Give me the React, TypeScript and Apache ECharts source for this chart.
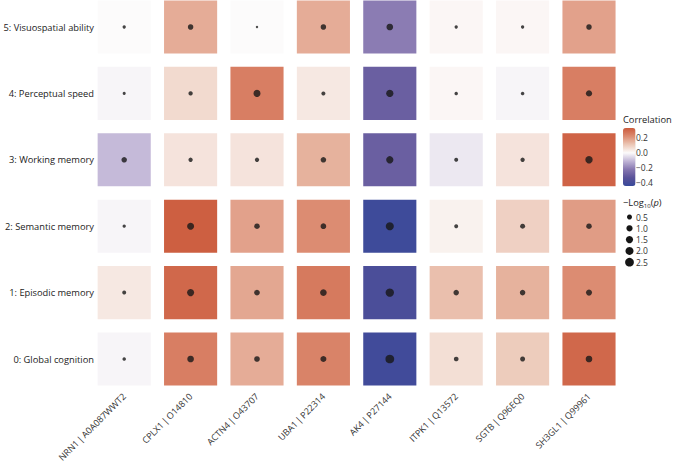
import React, { useEffect, useRef } from "react";
import * as echarts from "echarts";

const proteins = [
  "NRN1\u2009|\u2009A0A087WWT2",
  "CPLX1\u2009|\u2009O14810",
  "ACTN4\u2009|\u2009O43707",
  "UBA1\u2009|\u2009P22314",
  "AK4\u2009|\u2009P27144",
  "ITPK1\u2009|\u2009Q13572",
  "SGTB\u2009|\u2009Q96EQ0",
  "SH3GL1\u2009|\u2009Q99961",
];
const outcomes = [
  "0: Global cognition",
  "1: Episodic memory",
  "2: Semantic memory",
  "3: Working memory",
  "4: Perceptual speed",
  "5: Visuospatial ability",
];

// correlation per outcome (rows), one value per protein (columns)
const corrGlobal = [-0.01, 0.25, 0.16, 0.24, -0.41, 0.06, 0.1, 0.3];
const corrEpisodic = [0.04, 0.3, 0.17, 0.26, -0.38, 0.125, 0.15, 0.22];
const corrSemantic = [-0.01, 0.32, 0.18, 0.22, -0.42, 0.02, 0.09, 0.19];
const corrWorking = [-0.1, 0.05, 0.05, 0.15, -0.29, -0.03, 0.05, 0.31];
const corrPerceptual = [-0.01, 0.07, 0.25, 0.04, -0.29, 0.01, -0.01, 0.25];
const corrVisuospatial = [0.0, 0.16, 0.0, 0.16, -0.21, 0.01, 0.01, 0.18];

// -log10(p) per outcome
const logpGlobal = [0.12, 1.2, 0.75, 0.9, 2.5, 0.4, 0.5, 1.2];
const logpEpisodic = [0.22, 1.4, 0.75, 1.2, 2.2, 0.68, 0.68, 0.9];
const logpSemantic = [0.09, 1.4, 0.68, 0.75, 2.0, 0.22, 0.5, 0.68];
const logpWorking = [0.68, 0.3, 0.3, 0.68, 1.55, 0.22, 0.3, 1.6];
const logpPerceptual = [0.06, 0.3, 1.4, 0.22, 1.55, 0.12, 0.12, 1.0];
const logpVisuospatial = [0.09, 0.68, 0.01, 0.68, 1.2, 0.09, 0.09, 0.68];

const corrRows = [corrGlobal, corrEpisodic, corrSemantic, corrWorking, corrPerceptual, corrVisuospatial];
const logpRows = [logpGlobal, logpEpisodic, logpSemantic, logpWorking, logpPerceptual, logpVisuospatial];

const colorTicks = [0.2, 0.0, -0.2, -0.4];
const sizeTicks = [0.5, 1.0, 1.5, 2.0, 2.5];

const CMIN = -0.44;
const CMAX = 0.33;
const palette = ["#38499a", "#5a5299", "#8676b0", "#c0b4d6", "#fcfbfb", "#ecc7b6", "#dc8c72", "#cc5a3c"];

const FONT = "'Open Sans', 'Noto Sans', sans-serif";
const sizeOf = (v: number) => 2 + 7 * Math.sqrt(Math.max(v, 0) / 2.7);

export default function App() {
  const ref = useRef<HTMLDivElement>(null);
  useEffect(() => {
    if (!ref.current) return;
    const chart = echarts.init(ref.current, null, { renderer: "svg" });

    const cellData: number[][] = [];
    const dotData: number[][] = [];
    outcomes.forEach((_, r) => {
      proteins.forEach((_, c) => {
        cellData.push([c, r, corrRows[r][c]]);
        dotData.push([c, r, logpRows[r][c]]);
      });
    });

    const barTop = 128;
    const barH = 58;
    const barLeft = 623;
    const barW = 12.5;
    const yOf = (v: number) => barTop + ((CMAX - v) / (CMAX - CMIN)) * barH;

    const graphics: any[] = [];
    graphics.push({
      type: "text",
      left: 623,
      top: 115,
      style: { text: "Correlation", font: `9.3px ${FONT}`, fill: "#222" },
    });
    colorTicks.forEach((t) => {
      const y = yOf(t);
      graphics.push({
        type: "text",
        x: 636,
        y,
        style: {
          text: t === 0 ? "0.0" : (t < 0 ? "\u2212" : "") + Math.abs(t).toFixed(1),
          font: `8.5px ${FONT}`,
          fill: "#333",
          verticalAlign: "middle",
          lineHeight: 9,
        },
      });
      graphics.push({ type: "line", shape: { x1: barLeft, y1: y, x2: barLeft + 2.5, y2: y }, style: { stroke: "#fff", lineWidth: 0.8 } });
      graphics.push({ type: "line", shape: { x1: barLeft + barW - 2.5, y1: y, x2: barLeft + barW, y2: y }, style: { stroke: "#fff", lineWidth: 0.8 } });
    });
    graphics.push({
      type: "text",
      x: 623,
      y: 202,
      style: {
        text: "{a|\u2212Log}{s|10}{a|(}{i|p}{a|)}",
        verticalAlign: "middle",
        rich: {
          a: { font: `9.3px ${FONT}`, fill: "#222", lineHeight: 14 },
          s: { font: `6px ${FONT}`, fill: "#222", lineHeight: 14, verticalAlign: "bottom", padding: [4, 0, 0, 0] },
          i: { font: `italic 9.3px ${FONT}`, fill: "#222", lineHeight: 14 },
        },
      },
    });
    sizeTicks.forEach((t, i) => {
      const y = 217 + i * 11.3;
      graphics.push({ type: "circle", shape: { cx: 629.5, cy: y, r: sizeOf(t) / 2 }, style: { fill: "#161616" } });
      graphics.push({
        type: "text",
        x: 636,
        y,
        style: { text: t.toFixed(1), font: `8.5px ${FONT}`, fill: "#333", verticalAlign: "middle", lineHeight: 9 },
      });
    });

    chart.setOption({
      animation: false,
      backgroundColor: "#fff",
      grid: {
        left: 91,
        top: -6.2,
        width: 531.2,
        height: 398.4,
        containLabel: false,
        outerBoundsMode: "none",
      },
      xAxis: {
        type: "category",
        data: proteins,
        axisLine: { show: false },
        axisTick: { show: false },
        splitLine: { show: false },
        axisLabel: {
          rotate: 45,
          margin: 2.5,
          interval: 0,
          fontFamily: FONT,
          fontSize: 9,
          color: "#333",
        },
      },
      yAxis: {
        type: "category",
        data: outcomes,
        axisLine: { show: false },
        axisTick: { show: false },
        splitLine: { show: false },
        axisLabel: {
          margin: -3,
          interval: 0,
          fontFamily: FONT,
          fontSize: 9.3,
          color: "#222",
        },
      },
      visualMap: {
        type: "continuous",
        seriesIndex: 0,
        dimension: 2,
        min: CMIN,
        max: CMAX,
        calculable: false,
        orient: "vertical",
        left: barLeft,
        top: barTop,
        itemWidth: barW,
        itemHeight: barH,
        padding: 0,
        text: undefined,
        showLabel: false,
        inRange: { color: palette },
      },
      graphic: graphics,
      series: [
        {
          type: "custom",
          data: cellData,
          encode: { x: 0, y: 1 },
          renderItem: (params: any, api: any) => {
            const c = api.coord([api.value(0), api.value(1)]);
            const s = api.size([1, 1]);
            const w = s[0] * 0.8;
            const h = s[1] * 0.8;
            return {
              type: "rect",
              shape: { x: c[0] - w / 2, y: c[1] - h / 2, width: w, height: h },
              style: { fill: api.visual("color") },
            };
          },
        },
        {
          type: "scatter",
          data: dotData,
          symbol: "circle",
          symbolSize: (v: number[]) => sizeOf(v[2]),
          itemStyle: { color: "#161616" },
          z: 5,
        },
      ],
    });
    return () => chart.dispose();
  }, []);
  return (
    <div
      ref={ref}
      style={{ position: "fixed", left: 0, top: 0, width: 674, height: 463, background: "#fff" }}
    />
  );
}
